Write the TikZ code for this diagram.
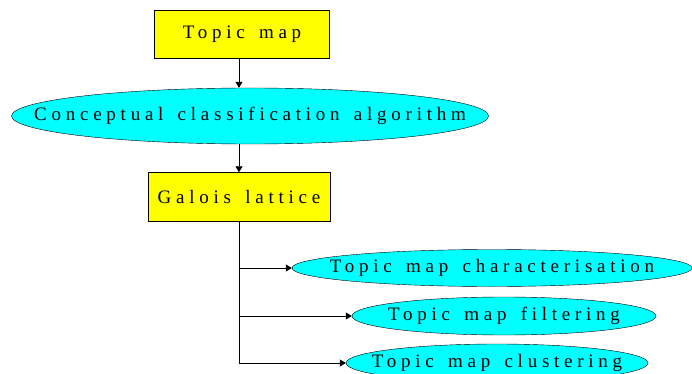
\documentclass[tikz,border=0pt]{standalone}
\usepackage{fontspec}
\setmainfont{Liberation Serif}[LetterSpace=25,WordSpace=1.5]
\usetikzlibrary{arrows.meta,shapes.geometric}
\definecolor{boxyellow}{RGB}{255,255,0}
\definecolor{ovalcyan}{RGB}{0,255,255}

\begin{document}
\begin{tikzpicture}[
    x=1pt, y=-1pt,
    font=\fontsize{19}{21}\selectfont,
    box/.style={
      draw, fill=boxyellow,
      inner sep=0pt, align=center
    },
    oval/.style={
      draw, fill=ovalcyan, ellipse,
      inner xsep=-90pt, inner ysep=-10pt, align=center
    },
    link/.style={-{Triangle[length=6pt,width=7pt]}, semithick}
  ]

% page frame
    \useasboundingbox (0,0) rectangle (692,374);

% --- Upper chain ---
    \node[box, minimum width=175pt, minimum height=48pt] (topic) at (242,34) {Topic map};
    \node[oval, minimum width=477pt, minimum height=56pt] (algo) at (250,116) {Conceptual classification algorithm};
    \node[box, minimum width=182pt, minimum height=49pt] (galois) at (239,197) {Galois lattice};

% --- Results ---
    \node[oval, minimum width=400pt, minimum height=37pt] (charac) at (492,268) {Topic map characterisation};
    \node[oval, minimum width=304pt, minimum height=38pt] (filter) at (504,316) {Topic map filtering};
    \node[oval, minimum width=302pt, minimum height=38pt] (cluster) at (497,363) {Topic map clustering};

% --- Connectors ---
    \draw[link] (topic.south -| galois.north) -- (algo.north -| galois.north);
    \draw[link] (algo.south -| galois.north) -- (galois.north);
    \draw[semithick] (galois.south) -- (galois.south |- cluster.west);
    \draw[link] (galois.south |- charac.west) -- (charac.west);
    \draw[link] (galois.south |- filter.west) -- (filter.west);
    \draw[link] (galois.south |- cluster.west) -- (cluster.west);

\end{tikzpicture}
\end{document}
